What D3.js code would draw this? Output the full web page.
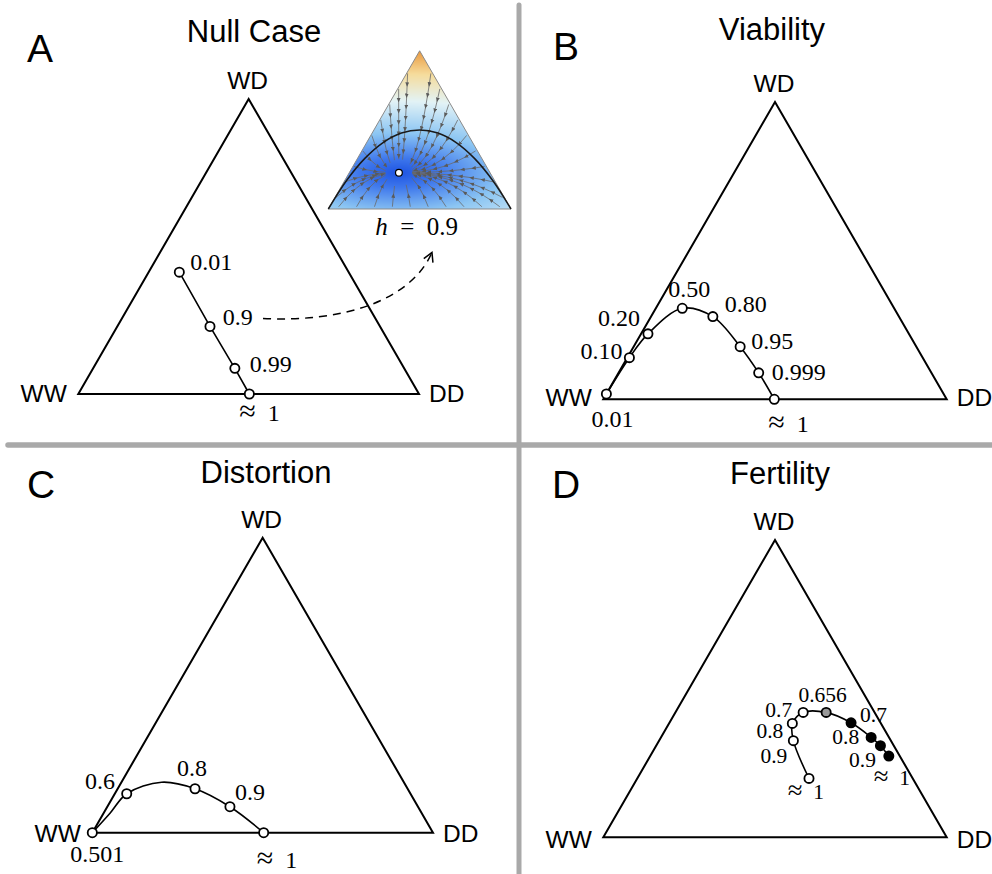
<!DOCTYPE html>
<html>
<head>
<meta charset="utf-8">
<script src="https://cdn.jsdelivr.net/npm/d3@7"></script>
<style>
  body { margin: 0; background: #fff; }
  svg { display: block; }
</style>
</head>
<body>
<div id="chart"></div>
<script>
// ---- data: equilibrium genotype frequencies (WW = 1 - WD - DD) ----
const panelLetters = ["A", "B", "C", "D"];
const panelTitles = ["Null Case", "Viability", "Distortion", "Fertility"];
const vertexNames = ["WW", "WD", "DD"];

const nullLabels = ["0.01", "0.9", "0.99", "≈ 1"];
const nullWD = [0.413, 0.229, 0.087, 0];
const nullDD = [0.090, 0.272, 0.416, 0.502];

const viaLabels = ["0.01", "0.10", "0.20", "0.50", "0.80", "0.95", "0.999", "≈ 1"];
const viaWD = [0.018, 0.140, 0.220, 0.306, 0.278, 0.177, 0.089, 0];
const viaDD = [0.000, 0.006, 0.020, 0.077, 0.180, 0.310, 0.408, 0.498];

const disLabels = ["0.501", "0.6", "0.8", "0.9", "≈ 1"];
const disWD = [0, 0.132, 0.149, 0.088, 0];
const disDD = [0, 0.035, 0.227, 0.360, 0.503];
// the equilibrium path between the marked values
const disPathWD = [0, 0.066, 0.132, 0.171, 0.149, 0.088, 0];
const disPathDD = [0, 0.019, 0.035, 0.118, 0.227, 0.360, 0.503];

const ferLabels = ["≈ 1", "0.9", "0.8", "0.7", "0.656", "0.7", "0.8", "0.9", "≈ 1"];
const ferKind = ["open", "open", "open", "open", "gray", "black", "black", "black", "black"];
const ferWD = [0.198, 0.325, 0.383, 0.420, 0.420, 0.385, 0.336, 0.308, 0.273];
const ferDD = [0.500, 0.391, 0.359, 0.372, 0.439, 0.529, 0.612, 0.653, 0.695];

// inset (h = 0.9): Hardy-Weinberg curve, by allele frequency
const insetLabel = "0.9";
const hwP = [0, 0.1, 0.2, 0.3, 0.4, 0.5, 0.6, 0.7, 0.8, 0.9, 1];
const hwWD = [0, 0.18, 0.32, 0.42, 0.48, 0.5, 0.48, 0.42, 0.32, 0.18, 0];

// ---- layout ----
const SANS = "'Liberation Sans', Arial, sans-serif";
const SERIF = "'Liberation Serif', 'Times New Roman', serif";

const geom = [
    {left: 78.3, right: 419, base: 394, wwDy: 7.7, letter: [27, 62], title: [254, 42]},
    {left: 603.3, right: 946.7, base: 399.3, wwDy: 6.7, letter: [553, 60], title: [772, 40]},
    {left: 92.3, right: 433, base: 832.7, wwDy: 9, letter: [27, 498], title: [266, 483]},
    {left: 603.3, right: 946.7, base: 837.3, wwDy: 10.7, letter: [552, 498], title: [780, 484]}
];

let svg = d3.select("#chart").append("svg")
    .attr("width", 992)
    .attr("height", 874);

// grey dividers
svg.append("line")
    .attr("x1", 519).attr("x2", 519).attr("y1", 5).attr("y2", 880)
    .attr("stroke", "#a9a9a9").attr("stroke-width", 5).attr("stroke-linecap", "round");
svg.append("line")
    .attr("x1", 8).attr("x2", 1000).attr("y1", 445).attr("y2", 445)
    .attr("stroke", "#a9a9a9").attr("stroke-width", 5.5).attr("stroke-linecap", "round");

// scales for one ternary panel: x = DD + WD/2, y = WD
function ternary(g) {
    let h = (g.right - g.left) * Math.sqrt(3) / 2;
    let x = d3.scaleLinear().domain([0, 1]).range([g.left, g.right]);
    let y = d3.scaleLinear().domain([0, 1]).range([g.base, g.base - h]);
    return {
        x: x, y: y,
        px: (wd, dd) => x(dd + wd / 2),
        py: (wd) => y(wd)
    };
}

function drawFrame(i) {
    let g = geom[i];
    let t = ternary(g);
    let grp = svg.append("g");

    grp.append("text")
        .attr("x", g.letter[0]).attr("y", g.letter[1])
        .style("font-family", SANS).style("font-size", "39px")
        .text(panelLetters[i]);

    grp.append("text")
        .attr("x", g.title[0]).attr("y", g.title[1])
        .attr("text-anchor", "middle")
        .style("font-family", SANS).style("font-size", "31px")
        .text(panelTitles[i]);

    let corners = [[t.x(0), t.y(0)], [t.x(0.5), t.y(1)], [t.x(1), t.y(0)]];
    grp.append("path")
        .attr("d", d3.line()(corners) + "Z")
        .attr("fill", "none")
        .attr("stroke", "black")
        .attr("stroke-width", 2);

    // vertex names
    grp.append("text")
        .attr("x", corners[0][0] - 11.5).attr("y", corners[0][1] + g.wwDy)
        .attr("text-anchor", "end")
        .style("font-family", SANS).style("font-size", "24.5px")
        .text(vertexNames[0]);
    grp.append("text")
        .attr("x", corners[1][0] - 1).attr("y", corners[1][1] - 10)
        .attr("text-anchor", "middle")
        .style("font-family", SANS).style("font-size", "24.5px")
        .text(vertexNames[1]);
    grp.append("text")
        .attr("x", corners[2][0] + 10).attr("y", corners[2][1] + g.wwDy)
        .style("font-family", SANS).style("font-size", "24.5px")
        .text(vertexNames[2]);

    return {grp: grp, t: t};
}

// "≈ 1" gets a bigger relation sign, like the math typesetting of the original
function writeLabel(sel, label) {
    if (label.indexOf("≈") === 0) {
        sel.append("tspan").style("font-size", "1.25em").text("≈");
        sel.append("tspan").text("\u2002" + label.slice(1).trim());
    } else {
        sel.text(label);
    }
}

function drawSeries(frame, labels, wd, dd, kinds, offsets, curve, fontSize, pathWD, pathDD) {
    let t = frame.t;
    let pts = d3.zip(labels, wd, dd, kinds || labels.map(() => "open"), offsets);

    let line = d3.line().curve(curve);
    let pathPts = pathWD
        ? d3.zip(pathWD, pathDD).map(d => [t.px(d[0], d[1]), t.py(d[0])])
        : pts.map(d => [t.px(d[1], d[2]), t.py(d[1])]);

    frame.grp.append("path")
        .attr("d", line(pathPts))
        .attr("fill", "none")
        .attr("stroke", "black")
        .attr("stroke-width", 1.6);

    frame.grp.selectAll("circle.node")
        .data(pts)
        .enter().append("circle")
        .attr("class", "node")
        .attr("cx", d => t.px(d[1], d[2]))
        .attr("cy", d => t.py(d[1]))
        .attr("r", 4.6)
        .attr("fill", d => d[3] === "black" ? "black" : (d[3] === "gray" ? "#999" : "white"))
        .attr("stroke", "black")
        .attr("stroke-width", 1.8);

    frame.grp.selectAll("text.val")
        .data(pts)
        .enter().append("text")
        .attr("class", "val")
        .attr("x", d => t.px(d[1], d[2]) + d[4][0])
        .attr("y", d => t.py(d[1]) + d[4][1])
        .attr("text-anchor", d => d[4][2])
        .style("font-family", SERIF)
        .style("font-size", fontSize + "px")
        .each(function (d) { writeLabel(d3.select(this), d[0]); });
}

// ---- A: Null case ----
let fA = drawFrame(0);
drawSeries(fA, nullLabels, nullWD, nullDD, null,
    [[11, -2, "start"], [12.7, -1.3, "start"], [15, 3.4, "start"], [-10, 27.4, "start"]],
    d3.curveLinear, 24);

// ---- B: Viability ----
let fB = drawFrame(1);
drawSeries(fB, viaLabels, viaWD, viaDD, null,
    [[-15, 32.7, "start"], [-7, 1, "end"], [-8, -8, "end"], [-14, -11, "start"],
     [12, -5, "start"], [11, 2.6, "start"], [13, 7.3, "start"], [-6, 32.4, "start"]],
    d3.curveCatmullRom.alpha(0.5), 24);

// ---- C: Distortion ----
let fC = drawFrame(2);
drawSeries(fC, disLabels, disWD, disDD, null,
    [[-22, 29, "start"], [-11.7, -4.4, "end"], [-18, -12.7, "start"], [5, -6.7, "start"], [-7, 35.6, "start"]],
    d3.curveCatmullRom.alpha(0.5), 24, disPathWD, disPathDD);

// ---- D: Fertility ----
let fD = drawFrame(3);
drawSeries(fD, ferLabels, ferWD, ferDD, ferKind,
    [[-21.3, 20.7, "start"], [-6, 22.6, "end"], [-9, 15, "end"], [-11, 4.4, "end"],
     [-3.5, -10.6, "middle"], [9, -1, "start"], [-12, 7, "end"], [-4.5, 21, "end"], [-15, 28.5, "start"]],
    d3.curveCatmullRom.alpha(0.5), 21.5);

// ---- inset in A: h = 0.9 phase portrait ----
let ig = {left: 328.3, right: 511, base: 209};
let it = ternary(ig);
let iW = ig.right - ig.left, iH = it.y(0) - it.y(1);
let eqWD = nullWD[nullLabels.indexOf(insetLabel)];
let eqDD = nullDD[nullLabels.indexOf(insetLabel)];
let x0 = eqDD + eqWD / 2, y0 = eqWD;

let defs = svg.append("defs");
let icorners = [[it.x(0), it.y(0)], [it.x(0.5), it.y(1)], [it.x(1), it.y(0)]];
defs.append("clipPath").attr("id", "insetClip")
    .append("path").attr("d", d3.line()(icorners) + "Z");

defs.append("marker")
    .attr("id", "flowArrow")
    .attr("viewBox", "0 -3 6 6")
    .attr("refX", 3).attr("refY", 0)
    .attr("markerUnits", "userSpaceOnUse")
    .attr("markerWidth", 4.5).attr("markerHeight", 4.5)
    .attr("orient", "auto")
    .append("path").attr("d", "M0,-2.6L6,0L0,2.6Z").attr("fill", "#5a5a5a");

defs.append("marker")
    .attr("id", "dashArrow")
    .attr("viewBox", "0 -6 12 12")
    .attr("refX", 10).attr("refY", 0)
    .attr("markerUnits", "userSpaceOnUse")
    .attr("markerWidth", 12).attr("markerHeight", 12)
    .attr("orient", "auto")
    .append("path").attr("d", "M1,-5L10,0L1,5").attr("fill", "none")
    .attr("stroke", "black").attr("stroke-width", 1.5);

// rough imitation of the inset's flow: pulled quickly toward the equilibrium's height, slowly sideways
const ka = 1.4, kb = 3.2;
function flow(xf, yf) { return [-ka * (xf - x0), -kb * (yf - y0)]; }

let colour = d3.scaleLinear()
    .domain([0, 0.3, 0.8, 1.45, 2.0, 2.5])
    .range(["#1f55e3", "#3f78ec", "#8cc6f3", "#e3f3f6", "#f6dc9c", "#e8953a"]);

let canvas = document.createElement("canvas");
let cw = Math.ceil(iW), ch = Math.ceil(iH);
canvas.width = cw; canvas.height = ch;
let ctx = canvas.getContext("2d");
let img = ctx.createImageData(cw, ch);
for (let j = 0; j < ch; j++) {
    for (let i = 0; i < cw; i++) {
        let xf = (i + 0.5) / iW, yf = 1 - (j + 0.5) / iH;
        let v = flow(xf, yf);
        let c = d3.rgb(colour(Math.hypot(v[0], v[1])));
        let k = (j * cw + i) * 4;
        img.data[k] = c.r; img.data[k + 1] = c.g; img.data[k + 2] = c.b; img.data[k + 3] = 255;
    }
}
ctx.putImageData(img, 0, 0);

let inset = svg.append("g").attr("clip-path", "url(#insetClip)");
inset.append("image")
    .attr("x", ig.left).attr("y", it.y(1))
    .attr("width", cw).attr("height", ch)
    .attr("preserveAspectRatio", "none")
    .attr("href", canvas.toDataURL());

// streamlines seeded along the edges
function inside(px, py) {
    let yf = (ig.base - py) / iH, xf = (px - ig.left) / iW;
    return yf >= -0.001 && xf >= yf / 2 - 0.001 && xf <= 1 - yf / 2 + 0.001;
}
let seeds = [];
d3.range(0.07, 0.96, 0.1).forEach(s => {
    seeds.push([s / 2, s]);            // left edge
    seeds.push([1 - s / 2, s]);        // right edge
});
d3.range(0.05, 1, 0.1).forEach(s => seeds.push([s, 0.01]));   // base
let ex = it.x(x0), ey = it.y(y0);
let streams = seeds.map(s => {
    let px = it.x(s[0]), py = it.y(s[1]);
    px += (ex - px) * 0.02; py += (ey - py) * 0.02;
    let pts = [[px, py]], run = 0;
    for (let n = 0; n < 900; n++) {
        let v = flow((px - ig.left) / iW, (ig.base - py) / iH);
        let vx = v[0] * iW, vy = -v[1] * iH;
        let m = Math.hypot(vx, vy);
        if (m < 1e-6) break;
        px += vx / m * 0.8; py += vy / m * 0.8;
        run += 0.8;
        if (!inside(px, py) || Math.hypot(px - ex, py - ey) < 14) break;
        if (run >= 11) { pts.push([px, py]); run = 0; }
    }
    pts.push([px, py]);
    return pts;
});
inset.selectAll("path.stream")
    .data(streams)
    .enter().append("path")
    .attr("class", "stream")
    .attr("d", d => d3.line()(d))
    .attr("fill", "none")
    .attr("stroke", "#6a6a6a")
    .attr("stroke-width", 0.8)
    .attr("marker-mid", "url(#flowArrow)");

svg.append("path")
    .attr("d", d3.line()(icorners) + "Z")
    .attr("fill", "none")
    .attr("stroke", "#8a8a8a")
    .attr("stroke-width", 1);

svg.append("path")
    .attr("d", d3.line().curve(d3.curveCatmullRom)(d3.zip(hwP, hwWD).map(d => [it.x(d[0]), it.y(d[1])])))
    .attr("fill", "none")
    .attr("stroke", "#1a1a1a")
    .attr("stroke-width", 1.5);

svg.append("circle")
    .attr("cx", ex).attr("cy", ey).attr("r", 3.4)
    .attr("fill", "white").attr("stroke", "black").attr("stroke-width", 1.2);

let hLabel = svg.append("text")
    .attr("x", (ig.left + ig.right) / 2 - 3).attr("y", 235)
    .attr("text-anchor", "middle")
    .style("font-family", SERIF).style("font-size", "25px");
hLabel.append("tspan").style("font-style", "italic").text("h");
hLabel.append("tspan").text("\u2002=\u2002" + insetLabel);

// dashed arrow from the 0.9 point to the inset
let ax = fA.t.px(eqWD, eqDD), ay = fA.t.py(eqWD);
svg.append("path")
    .attr("d", "M" + (ax + 53) + "," + (ay - 8) + " C" + (ax + 130) + "," + (ay - 4) + " " +
        (ax + 200) + "," + (ay - 24) + " " + (ax + 222) + "," + (ay - 74))
    .attr("fill", "none")
    .attr("stroke", "black")
    .attr("stroke-width", 1.5)
    .attr("stroke-dasharray", "8,6")
    .attr("marker-end", "url(#dashArrow)");
</script>
</body>
</html>
